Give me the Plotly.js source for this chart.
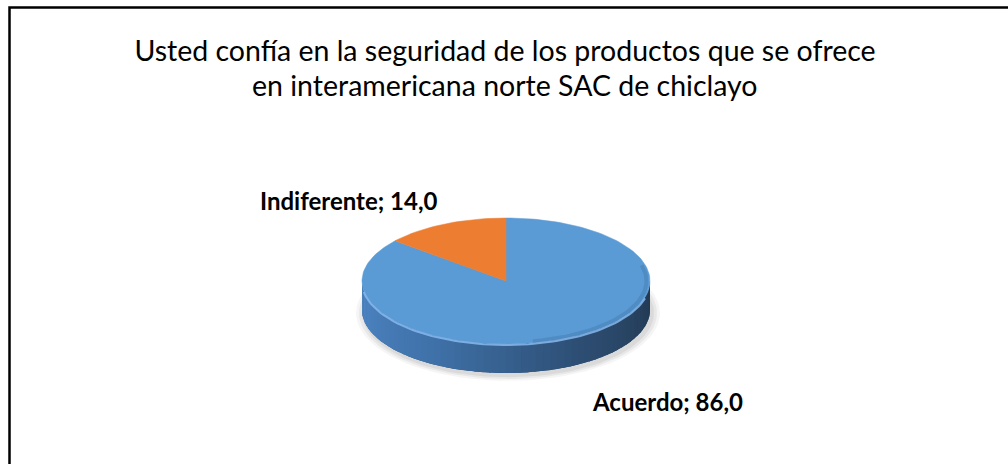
<!DOCTYPE html>
<html>
<head>
<meta charset="utf-8">
<script src="https://cdn.plot.ly/plotly-3.0.1.min.js"></script>
<style>html,body{margin:0;padding:0;background:#fff;}#chart{width:1008px;height:464px;}</style>
</head>
<body>
<div id="chart"></div>
<script>
// ---- data ----
const categories = ['Acuerdo', 'Indiferente'];
const values = [86.0, 14.0];
const sliceColors = ['#5b9bd5', '#ed7d31'];
const titleLines = ['Usted confía en la seguridad de los productos que se ofrece', 'en interamericana norte SAC de chiclayo'];

// ---- geometry (pixel space of the figure) ----
const CX = 506, CY = 281, RA = 144, RB = 63, DEPTH = 29;
const FONT = 'Lato, "Open Sans", sans-serif';

function pt(deg, dy, k) {
  const r = deg * Math.PI / 180, s = k || 1;
  return [CX + RA * s * Math.sin(r), CY - RB * s * Math.cos(r) + (dy || 0)];
}
function hexToRgb(h) { return [parseInt(h.substr(1,2),16), parseInt(h.substr(3,2),16), parseInt(h.substr(5,2),16)]; }
function mix(c1, c2, t) {
  const a = hexToRgb(c1), b = hexToRgb(c2);
  return 'rgb(' + a.map((v, i) => Math.round(v + (b[i] - v) * t)).join(',') + ')';
}
function ramp(stops, t) {
  const n = stops.length - 1, k = Math.min(n - 1, Math.floor(t * n));
  return mix(stops[k], stops[k + 1], t * n - k);
}

const total = values.reduce((s, v) => s + v, 0);
const traces = [];

// soft shadow under the pie
[[8, 0.04], [5, 0.05], [2, 0.06]].forEach(([g, op]) => {
  const xs = [], ys = [];
  for (let d = 0; d <= 360; d += 3) {
    const r = d * Math.PI / 180;
    xs.push(CX + 2 + (RA + g) * Math.sin(r));
    ys.push(CY + DEPTH + 3 - (RB + g * 0.6) * Math.cos(r));
  }
  traces.push({x: xs, y: ys, type: 'scatter', mode: 'lines', fill: 'toself',
    fillcolor: 'rgba(0,0,0,' + op + ')', line: {width: 0}, hoverinfo: 'skip', showlegend: false});
});

// slices: start at 12 o'clock, clockwise
let start = 0;
const sliceAngles = values.map(v => { const s = start; start += v / total * 360; return [s, start]; });

const sideStops = [
  ['#4d86c5', '#3f71a8', '#2d4e73', '#213850'],
  ['#e9772a', '#c9621e', '#a24c16', '#7a3810']
];

// side wall (front half only), shaded left to right
sliceAngles.forEach(([a0, a1], i) => {
  const lo = Math.max(a0, 90), hi = Math.min(a1, 270);
  if (hi <= lo) return;
  const bx = [], by = [];
  for (let d = lo; d <= hi + 0.001; d += 2) { const p = pt(d); bx.push(p[0]); by.push(p[1]); }
  for (let d = hi; d >= lo - 0.001; d -= 2) { const p = pt(d, DEPTH); bx.push(p[0]); by.push(p[1]); }
  traces.push({x: bx, y: by, type: 'scatter', mode: 'lines', fill: 'toself', fillcolor: sideStops[i][2],
    line: {width: 0}, hoverinfo: 'skip', showlegend: false});
  const n = Math.ceil((hi - lo) / 3);
  for (let k = 0; k < n; k++) {
    const s = lo + (hi - lo) * k / n, e = Math.min(hi, lo + (hi - lo) * (k + 1) / n + 0.8);
    const xs = [], ys = [];
    for (let j = 0; j <= 4; j++) { const p = pt(s + (e - s) * j / 4); xs.push(p[0]); ys.push(p[1]); }
    for (let j = 4; j >= 0; j--) { const p = pt(s + (e - s) * j / 4, DEPTH); xs.push(p[0]); ys.push(p[1]); }
    const t = 1 - ((s + e) / 2 - 90) / 180;
    const col = ramp(sideStops[i], Math.max(0, Math.min(1, t)));
    traces.push({x: xs, y: ys, type: 'scatter', mode: 'lines', fill: 'toself', fillcolor: col,
      line: {width: 0}, hoverinfo: 'skip', showlegend: false});
  }
});

// top faces
sliceAngles.forEach(([a0, a1], i) => {
  const xs = [CX], ys = [CY];
  const n = Math.max(2, Math.ceil((a1 - a0) / 2));
  for (let k = 0; k <= n; k++) { const p = pt(a0 + (a1 - a0) * k / n); xs.push(p[0]); ys.push(p[1]); }
  xs.push(CX); ys.push(CY);
  traces.push({x: xs, y: ys, type: 'scatter', mode: 'lines', fill: 'toself', fillcolor: sliceColors[i],
    line: {width: 0.5, color: sliceColors[i]}, name: categories[i],
    text: categories[i] + ': ' + values[i], hoverinfo: 'text', showlegend: false});
});

// bevel: shaded inner rim on the lower right, light rim along the front edge
(function () {
  const xs = [], ys = [];
  for (let d = 75; d <= 170; d += 2) { const p = pt(d, 0, 0.975); xs.push(p[0]); ys.push(p[1]); }
  traces.push({x: xs, y: ys, type: 'scatter', mode: 'lines', line: {width: 4, color: 'rgba(40,80,130,0.2)'},
    hoverinfo: 'skip', showlegend: false});
  const xs1 = [], ys1 = [];
  for (let d = 105; d <= 262; d += 2) { const p = pt(d, 1); xs1.push(p[0]); ys1.push(p[1]); }
  traces.push({x: xs1, y: ys1, type: 'scatter', mode: 'lines', line: {width: 2, color: 'rgba(135,185,238,0.85)'},
    hoverinfo: 'skip', showlegend: false});
})();

// data labels
const fmt = v => v.toFixed(1).replace('.', ',');
const labelPos = [{x: 667, y: 401}, {x: 349, y: 200}];
const annotations = categories.map((c, i) => ({
  text: '<b>' + c + '; ' + fmt(values[i]) + '</b>', x: labelPos[i].x, y: labelPos[i].y,
  xref: 'x', yref: 'y', showarrow: false, xanchor: 'center', yanchor: 'middle',
  font: {family: FONT, size: 24, color: '#000'}
}));
// second title line
annotations.push({text: titleLines[1], x: 505, y: 85, xref: 'x', yref: 'y', showarrow: false,
  xanchor: 'center', yanchor: 'middle', font: {family: FONT, size: 28.5, color: '#000'}});

const layout = {
  width: 1008, height: 464,
  margin: {l: 0, r: 0, t: 0, b: 0},
  paper_bgcolor: '#ffffff', plot_bgcolor: '#ffffff',
  title: {text: titleLines[0], x: 505 / 1008, xanchor: 'center', y: 1 - 51 / 464, yanchor: 'middle',
    font: {family: FONT, size: 28.5, color: '#000'}},
  xaxis: {range: [0, 1008], visible: false, fixedrange: true},
  yaxis: {range: [464, 0], visible: false, fixedrange: true},
  showlegend: false,
  annotations: annotations,
  shapes: [{type: 'rect', xref: 'x', yref: 'y', x0: 9.5, y0: 7.5, x1: 1030, y1: 490,
    line: {color: '#000', width: 2.5}, fillcolor: 'rgba(0,0,0,0)', layer: 'above'}]
};

Plotly.newPlot('chart', traces, layout, {displayModeBar: false, staticPlot: true});
</script>
</body>
</html>
